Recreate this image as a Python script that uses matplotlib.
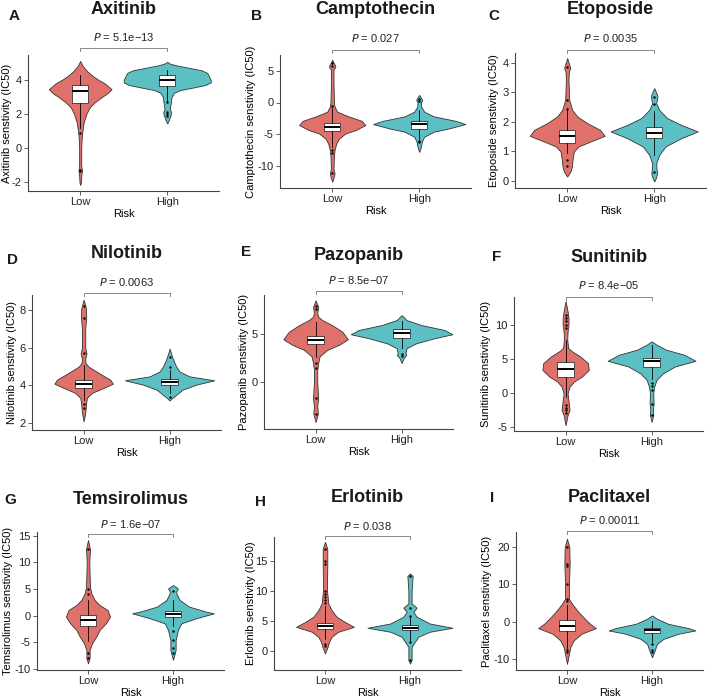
import matplotlib.pyplot as plt
import matplotlib.transforms as mtransforms

plt.rcParams['font.family'] = ['Liberation Sans', 'DejaVu Sans']
plt.rcParams['axes.unicode_minus'] = False

groups = ['Low', 'High']
drugs = ['Axitinib', 'Camptothecin', 'Etoposide', 'Nilotinib', 'Pazopanib',
         'Sunitinib', 'Temsirolimus', 'Erlotinib', 'Paclitaxel']
letters = ['A', 'B', 'C', 'D', 'E', 'F', 'G', 'H', 'I']
p_labels = ['5.1e\u221213', '0.027', '0.0035', '0.0063', '8.5e\u221207',
            '8.4e\u221205', '1.6e\u221207', '0.038', '0.00011']
y_ticks = [[-2, 0, 2, 4], [-10, -5, 0, 5], [0, 1, 2, 3, 4], [2, 4, 6, 8], [0, 5],
           [-5, 0, 5, 10], [-10, -5, 0, 5, 10, 15], [0, 5, 10, 15], [-10, 0, 10, 20]]

# violin outlines: IC50 value -> half width (x units)
axi_low_v = [5.1, 4.8, 4.5, 4.2, 4.0, 3.8, 3.45, 3.2, 3.0, 2.7, 2.4, 2.0, 1.5, 1.0, 0.6, 0.0, -1.0, -1.3, -1.6, -2.0, -2.15]
axi_low_w = [0, .03, .08, .15, .21, .28, .36, .31, .25, .17, .11, .07, .04, .025, .017, .012, .012, .02, .012, .008, 0]
axi_high_v = [5.05, 4.95, 4.85, 4.7, 4.55, 4.4, 4.2, 4.0, 3.85, 3.7, 3.55, 3.4, 3.25, 3.0, 2.6, 2.3, 2.1, 1.95, 1.8, 1.6, 1.45]
axi_high_w = [0, .03, .10, .25, .40, .46, .48, .50, .50, .44, .30, .15, .08, .05, .04, .03, .045, .04, .03, .015, 0]
cam_low_v = [6.74, 6.3, 5.8, 5.6, 5.2, 3.0, 0.0, -0.65, -1.45, -2.2, -2.9, -3.56, -4.35, -4.9, -5.7, -6.5, -7.5, -8.6, -10.5, -11.2, -11.9, -12.5]
cam_low_w = [0, .015, .035, .035, .015, .015, .02, .027, .057, .19, .34, .38, .27, .15, .077, .046, .027, .019, .015, .027, .015, 0]
cam_high_v = [1.2, 0.7, 0.4, 0.0, -0.65, -1.45, -2.2, -2.9, -3.4, -4.1, -4.6, -5.4, -6.2, -7.0, -7.8]
cam_high_w = [0, .023, .035, .019, .023, .057, .17, .42, .53, .34, .17, .057, .03, .019, 0]
eto_low_v = [4.17, 3.95, 3.83, 3.7, 3.43, 2.75, 2.41, 2.19, 1.96, 1.73, 1.53, 1.34, 1.17, 1.0, 0.71, 0.49, 0.32, 0.15]
eto_low_w = [0, .023, .035, .019, .015, .023, .057, .115, .23, .38, .43, .27, .13, .077, .061, .054, .038, 0]
eto_high_v = [3.15, 2.95, 2.85, 2.64, 2.41, 2.13, 1.9, 1.68, 1.45, 1.17, 0.88, 0.6, 0.4, 0.26, 0.1, -0.02]
eto_high_w = [0, .03, .038, .023, .057, .15, .31, .5, .31, .13, .057, .023, .027, .034, .019, 0]
nil_low_v = [8.55, 8.1, 7.6, 7.0, 6.0, 5.7, 5.4, 5.19, 5.0, 4.83, 4.57, 4.3, 4.09, 3.86, 3.6, 3.33, 2.97, 2.53, 2.09]
nil_low_w = [0, .027, .03, .019, .019, .034, .019, .023, .057, .115, .21, .31, .34, .23, .096, .038, .027, .019, 0]
nil_high_v = [5.95, 5.5, 5.2, 5.0, 4.74, 4.48, 4.27, 4.04, 3.77, 3.5, 3.33, 3.2]
nil_high_w = [0, .03, .057, .077, .115, .23, .52, .31, .15, .077, .03, 0]
paz_low_v = [8.5, 7.8, 7.2, 6.8, 6.45, 5.93, 5.24, 4.45, 3.86, 3.34, 2.66, 1.97, 1.28, 0, -1.7, -2.5, -3.3, -4.17]
paz_low_w = [0, .03, .019, .03, .077, .19, .31, .375, .27, .134, .046, .03, .019, .019, .03, .019, .027, 0]
paz_high_v = [6.97, 6.45, 5.93, 5.41, 4.97, 4.55, 4.03, 3.52, 3.0, 2.8, 2.48, 1.97]
paz_high_w = [0, .057, .23, .5, .59, .38, .17, .057, .046, .054, .023, 0]
sun_low_v = [13.5, 12.0, 11.0, 10.0, 9.0, 7.83, 6.6, 6.1, 5.36, 4.38, 3.39, 2.4, 1.66, 0.92, -0.06, -1.54, -2.53, -3.27, -4.75]
sun_low_w = [0, .023, .034, .034, .023, .019, .03, .077, .17, .26, .27, .19, .096, .046, .023, .038, .046, .023, 0]
sun_high_v = [7.58, 7.09, 6.35, 5.61, 4.72, 3.88, 2.9, 1.91, 0.92, 0, -1.54, -2.5, -3.27, -4.26]
sun_high_w = [0, .057, .17, .38, .51, .27, .134, .057, .03, .019, .023, .015, .019, 0]
tem_low_v = [14.2, 12.5, 10, 5.4, 4.19, 2.94, 2.0, 1.06, -0.19, -1.44, -2.69, -3.94, -5.19, -6.44, -8.0, -8.94]
tem_low_w = [0, .023, .015, .023, .039, .078, .136, .23, .26, .21, .136, .097, .047, .019, .019, 0]
tem_high_v = [5.75, 5.1, 4.6, 4.19, 2.94, 1.69, 0.75, 0.44, -0.5, -1.44, -2.69, -4.56, -6.44, -8.3]
tem_high_w = [0, .058, .039, .039, .078, .19, .39, .48, .27, .097, .058, .031, .031, 0]
erl_low_v = [18.2, 17.0, 14.5, 10.15, 7.9, 6.8, 5.7, 4.85, 4.0, 3.18, 2.34, 1.5, 0.67, -0.45]
erl_low_w = [0, .027, .027, .023, .039, .078, .136, .23, .34, .155, .078, .047, .031, 0]
erl_high_v = [12.9, 12.5, 10.0, 7.9, 7.2, 6.5, 5.7, 4.57, 3.85, 3.18, 2.34, 1.5, 0.67, -1.56, -2.1]
erl_high_w = [0, .031, .019, .019, .078, .039, .078, .23, .5, .23, .097, .058, .019, .019, 0]
pac_low_v = [22.2, 20.0, 15.5, 10, 6.16, 4.82, 2.59, 0.8, -0.54, -1.7, -3.2, -5.0, -6.8, -8.6, -11.25]
pac_low_w = [0, .027, .031, .023, .023, .058, .136, .21, .27, .34, .17, .078, .039, .023, 0]
pac_high_v = [1.7, 0.8, -0.54, -1.7, -2.32, -3.21, -4.55, -5.9, -7.7, -9.5]
pac_high_w = [0, .058, .19, .43, .51, .31, .136, .058, .031, 0]

# box stats: q1, median, q3, lower whisker, upper whisker
axi_box = [[2.66, 3.35, 3.7, 1.2, 4.3], [3.65, 3.96, 4.29, 2.75, 4.6]]
cam_box = [[-4.5, -3.82, -3.19, -7.0, -0.9], [-4.25, -3.45, -2.87, -5.7, -1.2]]
eto_box = [[1.30, 1.51, 1.73, 0.95, 2.4], [1.45, 1.64, 1.82, 0.88, 2.36]]
nil_box = [[3.86, 4.09, 4.3, 3.24, 5.1], [4.04, 4.19, 4.35, 3.6, 4.83]]
paz_box = [[3.93, 4.38, 4.79, 2.65, 6.28], [4.62, 5.07, 5.52, 3.5, 6.3]]
sun_box = [[2.4, 3.48, 4.5, -0.55, 7.8], [3.88, 4.62, 5.1, 2.0, 7.0]]
tem_box = [[-1.88, -0.88, 0.12, -4.8, 2.9], [-0.31, 0.38, 0.88, -2.0, 3.0]]
erl_box = [[3.57, 4.07, 4.68, 1.9, 7.5], [3.46, 3.85, 4.29, 1.6, 5.7]]
pac_box = [[-2.5, -1.25, 0.36, -7.0, 4.6], [-3.0, -2.32, -1.6, -5.5, 0.2]]

# outlier points (Low, High)
axi_out = [[-1.25, -1.35, 0.9], [2.7, 2.1, 2.0, 1.9]]
cam_out = [[6.2, 5.7, -0.5, -7.5, -8.0, -11.2], [0.5, 0.2, -6.0, -6.3]]
eto_out = [[3.85, 2.75, 2.45, 0.7, 0.5], [2.85, 2.6, 0.3]]
nil_out = [[8.2, 7.6, 5.7, 3.0, 2.8], [5.5, 5.0, 3.4]]
paz_out = [[7.9, 7.6, 2.0, 1.5, -1.7, -3.3], [2.9, 2.7]]
sun_out = [[11.5, 11.0, 10.5, 10.0, 9.5, -1.8, -2.2, -2.5, -3.0], [1.4, 1.0, 0.5, -1.6, -3.2]]
tem_out = [[12.5, 5.0, 4.0, -7.0, -8.0], [4.6, -2.8, -4.5, -6.0, -7.0]]
erl_out = [[17.0, 15.0, 14.5, 10.0, 9.5, 9.0, 8.5, 8.0, 1.2, 0.8], [12.5, 7.2, 5.8, 1.5, -1.5]]
pac_out = [[20.0, 15.5, 15.0, 10.0, 6.0, 5.5, -7.5, -8.0], [-6.0, -7.5, -8.0]]

violins = [
    (axi_low_v, axi_low_w, axi_high_v, axi_high_w),
    (cam_low_v, cam_low_w, cam_high_v, cam_high_w),
    (eto_low_v, eto_low_w, eto_high_v, eto_high_w),
    (nil_low_v, nil_low_w, nil_high_v, nil_high_w),
    (paz_low_v, paz_low_w, paz_high_v, paz_high_w),
    (sun_low_v, sun_low_w, sun_high_v, sun_high_w),
    (tem_low_v, tem_low_w, tem_high_v, tem_high_w),
    (erl_low_v, erl_low_w, erl_high_v, erl_high_w),
    (pac_low_v, pac_low_w, pac_high_v, pac_high_w),
]
boxes = [axi_box, cam_box, eto_box, nil_box, paz_box, sun_box, tem_box, erl_box, pac_box]
outliers = [axi_out, cam_out, eto_out, nil_out, paz_out, sun_out, tem_out, erl_out, pac_out]
ylims = [(-2.5, 5.45), (-13.5, 7.5), (-0.24, 4.34), (1.63, 8.8), (-4.9, 9.06),
         (-5.6, 14.1), (-10.2, 15.7), (-3.2, 19.0), (-12.9, 24.0)]

# layout in pixels: axes left, top, bottom, group spacing; title y, letter x/y, p-text y, bracket y
W, H = 708, 698
axes_px = [(28, 55, 191, 87), (280, 55, 188, 87), (515, 53, 188, 87),
           (32, 295, 430, 86), (264, 295, 429, 86), (514, 297, 431, 86),
           (37, 532, 670, 85), (274, 537, 670, 85), (516, 532, 670, 85)]
ylabel_x = [7, 251, 494, 12, 244, 486, 8, 251, 487]
title_y = [9, 9, 9, 254, 256, 257, 500, 498, 498]
letter_xy = [(14, 16), (256, 16), (494, 16), (12, 260), (246, 252), (497, 257),
             (10, 500), (261, 502), (492, 498)]
ptext_y = [37, 38, 38, 282, 280, 285, 524, 526, 520]
bracket_y = [48, 50, 50, 293, 291, 297, 534, 536, 531]

colors = ['#E0716A', '#5BBFC3']
line_col = '#333333'

fig = plt.figure(figsize=(W / 100, H / 100), dpi=100)

for i, drug in enumerate(drugs):
    left, top, bottom, sp = axes_px[i]
    width = 2.2 * sp
    ax = fig.add_axes([left / W, 1 - bottom / H, width / W, (bottom - top) / H])
    lv, lw, hv, hw = violins[i]
    for pos, vv, ww, col in [(1, lv, lw, colors[0]), (2, hv, hw, colors[1])]:
        ax.fill_betweenx(vv, [pos - w for w in ww], [pos + w for w in ww],
                         facecolor=col, edgecolor=line_col, linewidth=0.6, zorder=1)
    stats = []
    for b in boxes[i]:
        stats.append(dict(q1=b[0], med=b[1], q3=b[2], whislo=b[3], whishi=b[4]))
    ax.bxp(stats, positions=[1, 2], widths=0.19, showcaps=False, showfliers=False,
           patch_artist=True, manage_ticks=False,
           boxprops=dict(facecolor='white', edgecolor=line_col, linewidth=0.6),
           medianprops=dict(color='black', linewidth=1.4),
           whiskerprops=dict(color='black', linewidth=0.6), zorder=2)
    for pos, pts in zip([1, 2], outliers[i]):
        ax.scatter([pos] * len(pts), pts, s=3, color='black', zorder=3, linewidths=0)

    ax.set_xlim(0.4, 2.6)
    ax.set_ylim(*ylims[i])
    ax.set_xticks([1, 2])
    ax.set_xticklabels(groups)
    ax.set_yticks(y_ticks[i])
    for s in ['top', 'right']:
        ax.spines[s].set_visible(False)
    for s in ['left', 'bottom']:
        ax.spines[s].set_color('#444444')
        ax.spines[s].set_linewidth(0.8)
    ax.tick_params(axis='both', labelsize=8, length=3, width=0.6, pad=1.5,
                   color='#444444', labelcolor='#222222')
    ax.set_xlabel('Risk', fontsize=8, labelpad=1)
    ax.set_ylabel(drug + ' senstivity (IC50)', fontsize=8)
    ax.yaxis.set_label_coords((ylabel_x[i] + 5 - left) / width, 0.5)

    # title, panel letter, p-value bracket
    cx = (left + width / 2) / W
    fig.text(cx, 1 - title_y[i] / H, drug, fontsize=13, fontweight='bold',
             ha='center', va='center', color='#1a1a1a')
    lx, ly = letter_xy[i]
    fig.text(lx / W, 1 - ly / H, letters[i], fontsize=11, fontweight='bold',
             ha='center', va='center', color='#1a1a1a')
    trans = mtransforms.blended_transform_factory(ax.transData, fig.transFigure)
    by = 1 - bracket_y[i] / H
    dy = 3 / H
    ax.plot([1, 1, 2, 2], [by - dy, by, by, by - dy], color='#888888', lw=0.7,
            transform=trans, clip_on=False)
    ax.text(1.5, 1 - ptext_y[i] / H, '$\\it{P}$ = ' + p_labels[i], fontsize=8,
            ha='center', va='center', transform=trans, color='#222222')

fig.savefig('out.png', dpi=100)
